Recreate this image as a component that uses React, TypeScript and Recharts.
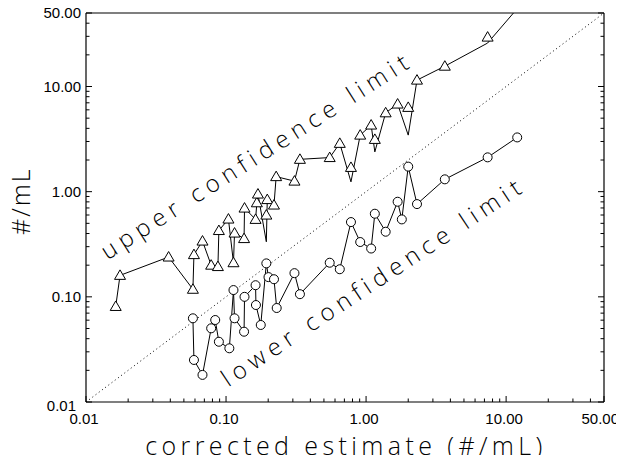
import { ScatterChart, Scatter, XAxis, YAxis, ReferenceLine } from 'recharts'

// upper confidence limit (triangles); upperLineY is where the joining line passes
const upperX = [0.0163, 0.0175, 0.0389, 0.058, 0.059, 0.0679, 0.0783, 0.0875, 0.0889, 0.104, 0.113, 0.115, 0.1345, 0.1355, 0.1625, 0.166, 0.169, 0.194, 0.197, 0.22, 0.228, 0.308, 0.337, 0.55, 0.649, 0.78, 0.908, 1.087, 1.155, 1.38, 1.68, 2.0, 2.31, 3.65, 7.38, 12.0]
const upperY = [0.081, 0.16, 0.239, 0.118, 0.252, 0.339, 0.2, 0.194, 0.427, 0.549, 0.211, 0.404, 0.358, 0.698, 0.545, 0.784, 0.949, 0.599, 0.841, 0.746, 1.39, 1.26, 2.03, 2.11, 2.88, 1.7, 3.45, 4.3, 3.14, 5.62, 6.81, 6.33, 11.5, 15.6, 29.5, 55]
const upperLineY = [0.081, 0.16, 0.239, 0.118, 0.252, 0.339, 0.2, 0.194, 0.427, 0.549, 0.211, 0.404, 0.358, 0.698, 0.545, 0.784, 0.949, 0.334, 0.841, 0.746, 1.39, 1.26, 2.03, 2.11, 2.88, 1.24, 3.45, 4.3, 2.39, 5.62, 6.81, 3.45, 11.5, 15.6, 25.9, 55]

// lower confidence limit (circles)
const lowerX = [0.058, 0.059, 0.0679, 0.0783, 0.0837, 0.0889, 0.1056, 0.113, 0.115, 0.1345, 0.1355, 0.1625, 0.1635, 0.177, 0.194, 0.201, 0.22, 0.23, 0.308, 0.337, 0.55, 0.649, 0.78, 0.908, 1.087, 1.155, 1.38, 1.68, 1.8, 2.0, 2.31, 3.65, 7.38, 12.0]
const lowerY = [0.0625, 0.0251, 0.0181, 0.0502, 0.0602, 0.0374, 0.0324, 0.116, 0.0625, 0.0466, 0.1, 0.129, 0.0836, 0.054, 0.208, 0.154, 0.147, 0.0783, 0.168, 0.106, 0.211, 0.183, 0.514, 0.332, 0.288, 0.617, 0.416, 0.802, 0.545, 1.73, 0.762, 1.31, 2.12, 3.28]

const majorTicks = [0.01, 0.1, 1, 10, 50]
const majorLabels = ['0.01', '0.10', '1.00', '10.00', '50.00']
const minorTicks = [0.02, 0.03, 0.04, 0.05, 0.06, 0.07, 0.08, 0.09, 0.2, 0.3, 0.4, 0.5, 0.6, 0.7, 0.8, 0.9, 2, 3, 4, 5, 6, 7, 8, 9, 20, 30, 40]
const allTicks = [...majorTicks, ...minorTicks].sort((a, b) => a - b)

const DOMAIN: [number, number] = [0.01, 50]

const upperLine = upperX.map((x, i) => ({ x, y: upperLineY[i] }))
const upperMarks = upperX.map((x, i) => ({ x, y: upperY[i] })).filter((d) => d.y <= DOMAIN[1])
const lowerData = lowerX.map((x, i) => ({ x, y: lowerY[i] }))

const tickFont = { fontFamily: 'Liberation Sans, Arial, sans-serif', fontSize: 15, fill: '#000' }

function makeTick(side: 'bottom' | 'left' | 'top' | 'right') {
  return function Tick(props: any) {
    const { x, y, payload } = props
    const v = payload.value
    const idx = majorTicks.indexOf(v)
    const len = idx >= 0 ? 6 : 3.5
    let line
    if (side === 'bottom') line = <line x1={x} x2={x} y1={y} y2={y - len} stroke="#000" />
    else if (side === 'top') line = <line x1={x} x2={x} y1={y} y2={y + len} stroke="#000" />
    else if (side === 'left') line = <line x1={x} x2={x + len} y1={y} y2={y} stroke="#000" />
    else line = <line x1={x} x2={x - len} y1={y} y2={y} stroke="#000" />
    let label = null
    if (idx >= 0 && side === 'bottom') {
      const last = v === 50
      label = (
        <text x={last ? x + 15 : x - 2} y={y + 22} textAnchor={last ? 'end' : 'middle'} {...tickFont}>
          {majorLabels[idx]}
        </text>
      )
    }
    if (idx >= 0 && side === 'left') {
      const low = v === 0.01
      label = (
        <text x={x - (low ? 10 : 5)} y={y + (low ? 9 : 5)} textAnchor="end" {...tickFont}>
          {majorLabels[idx]}
        </text>
      )
    }
    return (
      <g>
        {line}
        {label}
      </g>
    )
  }
}

function Triangle(props: any) {
  const { cx, cy } = props
  if (cx == null || cy == null) return <g />
  return <polygon points={`${cx},${cy - 5.5} ${cx - 5.5},${cy + 4} ${cx + 5.5},${cy + 4}`} fill="#fff" stroke="#000" strokeWidth={1} />
}

function Circle(props: any) {
  const { cx, cy } = props
  if (cx == null || cy == null) return <g />
  return <circle cx={cx} cy={cy} r={4.5} fill="#fff" stroke="#000" strokeWidth={1} />
}

const noShape = () => <g />

const textFont = { fontFamily: 'Open Sans, DejaVu Sans, sans-serif', fontWeight: 300, color: '#000' }

export default function App() {
  return (
    <div style={{ position: 'relative', width: 616, height: 447 }}>
      <style>{'html,body{overflow:hidden}.recharts-surface{overflow:visible}'}</style>
      <ScatterChart width={616} height={447} margin={{ top: 4, right: 10, bottom: 23, left: 8 }}>
        <XAxis
          xAxisId="b"
          type="number"
          dataKey="x"
          scale="log"
          domain={DOMAIN}
          allowDataOverflow
          ticks={allTicks}
          interval={0}
          height={30}
          tickSize={0}
          tickMargin={0}
          tickLine={false}
          axisLine={{ stroke: '#000', strokeWidth: 1.2 }}
          tick={makeTick('bottom')}
        />
        <XAxis
          xAxisId="t"
          orientation="top"
          type="number"
          scale="log"
          domain={DOMAIN}
          allowDataOverflow
          ticks={allTicks}
          interval={0}
          height={1}
          tickSize={0}
          tickMargin={0}
          tickLine={false}
          axisLine={{ stroke: '#000', strokeWidth: 1.2 }}
          tick={makeTick('top')}
        />
        <YAxis
          yAxisId="l"
          type="number"
          dataKey="y"
          scale="log"
          domain={DOMAIN}
          allowDataOverflow
          ticks={allTicks}
          interval={0}
          width={70}
          tickSize={0}
          tickMargin={0}
          tickLine={false}
          axisLine={{ stroke: '#000', strokeWidth: 1.2 }}
          tick={makeTick('left')}
        />
        <YAxis
          yAxisId="r"
          orientation="right"
          type="number"
          scale="log"
          domain={DOMAIN}
          allowDataOverflow
          ticks={allTicks}
          interval={0}
          width={10}
          tickSize={0}
          tickMargin={0}
          tickLine={false}
          axisLine={{ stroke: '#000', strokeWidth: 1.2 }}
          tick={makeTick('right')}
        />
        <ReferenceLine
          xAxisId="b"
          yAxisId="l"
          segment={[{ x: 0.01, y: 0.01 }, { x: 50, y: 50 }]}
          stroke="#000"
          strokeDasharray="1 3"
          strokeWidth={1}
        />
        <Scatter xAxisId="b" yAxisId="l" data={upperLine} line={{ stroke: '#000', strokeWidth: 1 }} lineType="joint" shape={noShape} isAnimationActive={false} />
        <Scatter xAxisId="b" yAxisId="l" data={upperMarks} shape={Triangle} isAnimationActive={false} />
        <Scatter xAxisId="b" yAxisId="l" data={lowerData} line={{ stroke: '#000', strokeWidth: 1 }} lineType="joint" shape={Circle} isAnimationActive={false} />
      </ScatterChart>

      <div
        style={{
          ...textFont,
          position: 'absolute',
          left: -18,
          top: 185,
          width: 60,
          textAlign: 'center',
          fontSize: 25,
          lineHeight: '24px',
          letterSpacing: 2,
          transform: 'rotate(-90deg)',
          transformOrigin: '50% 50%',
          whiteSpace: 'nowrap',
        }}
      >
        #/mL
      </div>
      <div
        style={{
          ...textFont,
          position: 'absolute',
          left: 88,
          top: 424,
          width: 500,
          textAlign: 'center',
          fontSize: 25,
          lineHeight: '26px',
          letterSpacing: 4.4,
          whiteSpace: 'nowrap',
        }}
      >
        corrected estimate (#/mL)
      </div>
      <div
        style={{
          ...textFont,
          position: 'absolute',
          left: 101,
          top: 255 - 24,
          fontSize: 24,
          lineHeight: '24px',
          letterSpacing: 5.6,
          transform: 'rotate(-32.5deg)',
          transformOrigin: '0% 100%',
          whiteSpace: 'nowrap',
        }}
      >
        upper confidence limit
      </div>
      <div
        style={{
          ...textFont,
          position: 'absolute',
          left: 222,
          top: 382 - 24,
          fontSize: 24,
          lineHeight: '24px',
          letterSpacing: 5.6,
          transform: 'rotate(-33.5deg)',
          transformOrigin: '0% 100%',
          whiteSpace: 'nowrap',
        }}
      >
        lower confidence limit
      </div>
    </div>
  )
}
